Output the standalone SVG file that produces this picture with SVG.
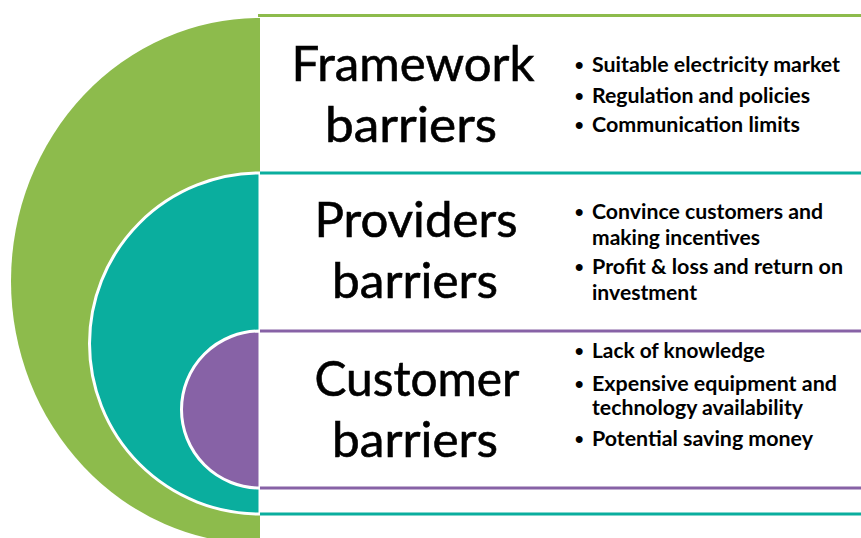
<svg xmlns="http://www.w3.org/2000/svg" width="861" height="538" viewBox="0 0 861 538">
<style>
.h{font-family:Lato,"Liberation Sans",sans-serif;font-size:49px;fill:#000;stroke:#000;stroke-width:0.6;text-anchor:middle}
.b{font-family:Lato,"Liberation Sans",sans-serif;font-size:20px;font-weight:bold;fill:#000}
.dot{font-family:"Liberation Sans",sans-serif;font-size:24px;font-weight:bold;fill:#000}
</style>
<rect width="861" height="538" fill="#ffffff"/>
<g id="framework">
<path d="M260,18 A249,263 0 0 0 260,544 Z" fill="#8DBB4C"/>
<line x1="258" y1="15.5" x2="861" y2="15.5" stroke="#8DBB4C" stroke-width="3"/>
<text class="h" x="413" y="81" textLength="243" lengthAdjust="spacingAndGlyphs">Framework</text>
<text class="h" x="411" y="142" textLength="172" lengthAdjust="spacingAndGlyphs">barriers</text>
<text class="dot" x="575" y="73">•</text>
<text class="b" x="592" y="72" textLength="248" lengthAdjust="spacingAndGlyphs">Suitable electricity market</text>
<text class="dot" x="575" y="104">•</text>
<text class="b" x="592" y="103" textLength="218" lengthAdjust="spacingAndGlyphs">Regulation and policies</text>
<text class="dot" x="575" y="133">•</text>
<text class="b" x="592" y="132" textLength="208" lengthAdjust="spacingAndGlyphs">Communication limits</text>
</g>
<g id="providers">
<path d="M260,173 A170.5,170.5 0 0 0 260,514 Z" fill="#0AAE9E" stroke="#ffffff" stroke-width="3"/>
<line x1="260" y1="173" x2="861" y2="173" stroke="#0AAE9E" stroke-width="3"/>
<line x1="260" y1="514" x2="861" y2="514" stroke="#0AAE9E" stroke-width="3"/>
<text class="h" x="416" y="237" textLength="203" lengthAdjust="spacingAndGlyphs">Providers</text>
<text class="h" x="415" y="298" textLength="166" lengthAdjust="spacingAndGlyphs">barriers</text>
<text class="dot" x="575" y="220">•</text>
<text class="b" x="592" y="219" textLength="231" lengthAdjust="spacingAndGlyphs">Convince customers and</text>
<text class="b" x="592" y="245" textLength="168" lengthAdjust="spacingAndGlyphs">making incentives</text>
<text class="dot" x="575" y="275">•</text>
<text class="b" x="592" y="274" textLength="251" lengthAdjust="spacingAndGlyphs">Profit &amp; loss and return on</text>
<text class="b" x="592" y="300" textLength="105" lengthAdjust="spacingAndGlyphs">investment</text>
</g>
<g id="customer">
<path d="M260,331 A78.5,78.5 0 0 0 260,488 Z" fill="#8762A6" stroke="#ffffff" stroke-width="3"/>
<line x1="260" y1="331" x2="861" y2="331" stroke="#8762A6" stroke-width="3"/>
<line x1="260" y1="488" x2="861" y2="488" stroke="#8762A6" stroke-width="3"/>
<text class="h" x="417" y="396" textLength="205" lengthAdjust="spacingAndGlyphs">Customer</text>
<text class="h" x="415" y="457" textLength="166" lengthAdjust="spacingAndGlyphs">barriers</text>
<text class="dot" x="575" y="359">•</text>
<text class="b" x="592" y="358" textLength="173" lengthAdjust="spacingAndGlyphs">Lack of knowledge</text>
<text class="dot" x="575" y="392">•</text>
<text class="b" x="592" y="391" textLength="245" lengthAdjust="spacingAndGlyphs">Expensive equipment and</text>
<text class="b" x="592" y="415" textLength="211" lengthAdjust="spacingAndGlyphs">technology availability</text>
<text class="dot" x="575" y="447">•</text>
<text class="b" x="592" y="446" textLength="221" lengthAdjust="spacingAndGlyphs">Potential saving money</text>
</g>
</svg>
